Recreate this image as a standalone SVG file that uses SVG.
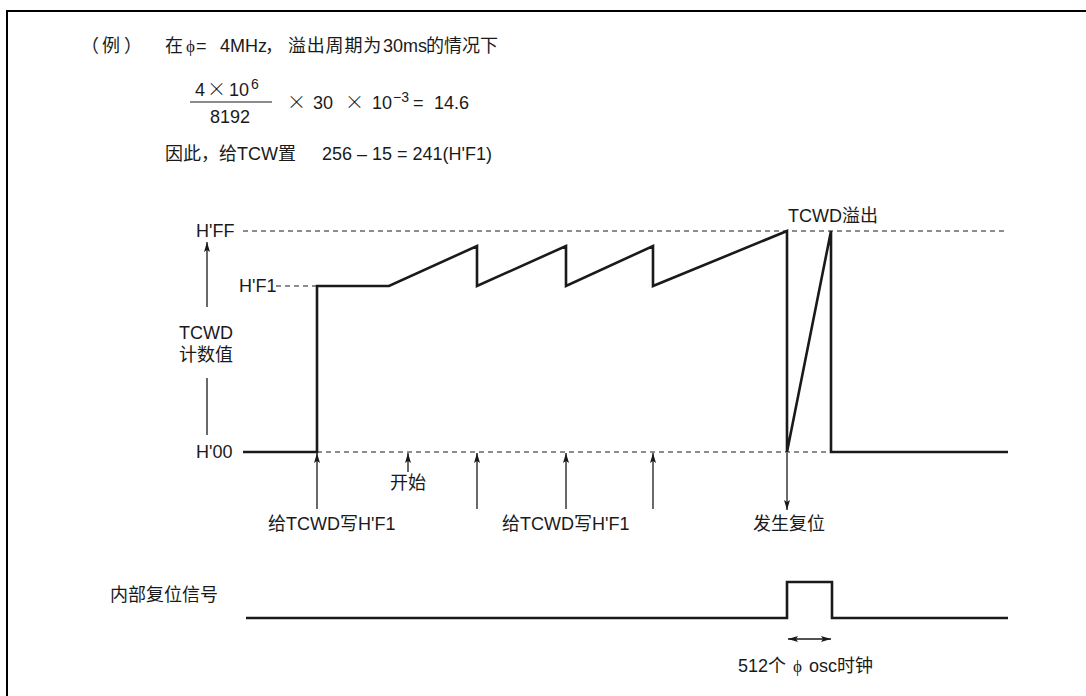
<svg xmlns="http://www.w3.org/2000/svg" width="1086" height="696" viewBox="0 0 1086 696">
<style>
text{font-family:"Liberation Sans","Noto Sans CJK SC",sans-serif;font-size:18px;fill:#1a1a1a}
.sup{font-size:14px}
.phi{font-family:"Liberation Serif","DejaVu Serif",serif;font-size:17px}
.times{font-family:"Noto Sans CJK SC","Liberation Sans",sans-serif;font-weight:300;font-size:19px}
.mid{text-anchor:middle}
.wave{fill:none;stroke:#1a1a1a;stroke-width:2.6;stroke-linejoin:miter}
.dash{fill:none;stroke:#1a1a1a;stroke-width:1;stroke-dasharray:5 4}
.thin{fill:none;stroke:#1a1a1a;stroke-width:1.3}
</style>
<defs>
<marker id="ah" viewBox="0 0 10 6" refX="10" refY="3" markerWidth="10" markerHeight="6" markerUnits="userSpaceOnUse" orient="auto-start-reverse">
<path d="M0,0 L10,3 L0,6 L2,3 z" fill="#1a1a1a"/>
</marker>
</defs>
<rect width="1086" height="696" fill="#fff"/>
<path d="M7,696 V11 H1086" fill="none" stroke="#000" stroke-width="2"/>

<g id="header">
<text x="81" y="52">（</text><text x="102" y="52">例</text><text x="124" y="52">）</text>
<text y="52"><tspan x="165">在</tspan><tspan x="186" class="phi">ϕ</tspan><tspan x="196">=</tspan><tspan x="220">4MHz</tspan><tspan x="265">，</tspan><tspan x="288" letter-spacing="0.8">溢出周期为</tspan><tspan x="383">30ms</tspan><tspan x="426">的情况下</tspan></text>
</g>

<g id="formula">
<text y="96"><tspan x="195">4</tspan><tspan x="207" class="times">×</tspan><tspan x="229">10</tspan></text>
<text x="251" y="89" class="sup">6</text>
<line x1="190" y1="102" x2="272" y2="102" stroke="#1a1a1a" stroke-width="1.2"/>
<text x="210" y="123">8192</text>
<text y="109"><tspan x="287" class="times">×</tspan><tspan x="313">30</tspan><tspan x="345" class="times">×</tspan><tspan x="372">10</tspan><tspan x="413">=</tspan><tspan x="434">14.6</tspan></text>
<text x="393" y="102" class="sup">−3</text>
</g>

<g id="setting">
<text y="160"><tspan x="165">因此，给TCW置</tspan><tspan x="322">256 – 15 = 241(H'F1)</tspan></text>
</g>

<g id="axis-labels">
<text x="196" y="237">H'FF</text>
<text x="239" y="292">H'F1</text>
<text x="196" y="458">H'00</text>
<text x="206" y="339" class="mid">TCWD</text>
<text x="206" y="361" class="mid">计数值</text>
<text x="788" y="222">TCWD溢出</text>
</g>

<g id="guides">
<path class="dash" d="M243,231 H1008"/>
<path class="dash" d="M276,286 H317"/>
<path class="dash" d="M317,452 H831"/>
</g>

<g id="counter-waveform">
<path class="wave" d="M243,452 L317,452 L317,286 L389,286 L477,246 L477,286 L566,246 L566,286 L653,246 L653,286 L787,231 L787,452 L831,231 L831,452 L1008,452"/>
</g>

<g id="connectors">
<line class="thin" x1="207" y1="307" x2="207" y2="242" marker-end="url(#ah)"/>
<line class="thin" x1="207" y1="378" x2="207" y2="435"/>
<line class="thin" x1="317" y1="509" x2="317" y2="453" marker-end="url(#ah)"/>
<line class="thin" x1="408" y1="472" x2="408" y2="453" marker-end="url(#ah)"/>
<line class="thin" x1="477" y1="509" x2="477" y2="453" marker-end="url(#ah)"/>
<line class="thin" x1="566" y1="509" x2="566" y2="453" marker-end="url(#ah)"/>
<line class="thin" x1="653" y1="509" x2="653" y2="453" marker-end="url(#ah)"/>
<line class="thin" x1="787" y1="453" x2="787" y2="510" marker-end="url(#ah)"/>
<line class="thin" x1="788" y1="639" x2="831" y2="639" marker-start="url(#ah)" marker-end="url(#ah)"/>
</g>

<g id="event-labels">
<text x="408" y="489" class="mid">开始</text>
<text x="268" y="530">给TCWD写H'F1</text>
<text x="502" y="530">给TCWD写H'F1</text>
<text x="753" y="530">发生复位</text>
</g>

<g id="reset-signal">
<text x="110" y="601">内部复位信号</text>
<path class="wave" d="M246,618 H787 V582 H832 V618 H1008"/>
<text y="672"><tspan x="738">512个</tspan><tspan x="793" class="phi">ϕ</tspan><tspan x="809">osc时钟</tspan></text>
</g>
</svg>
